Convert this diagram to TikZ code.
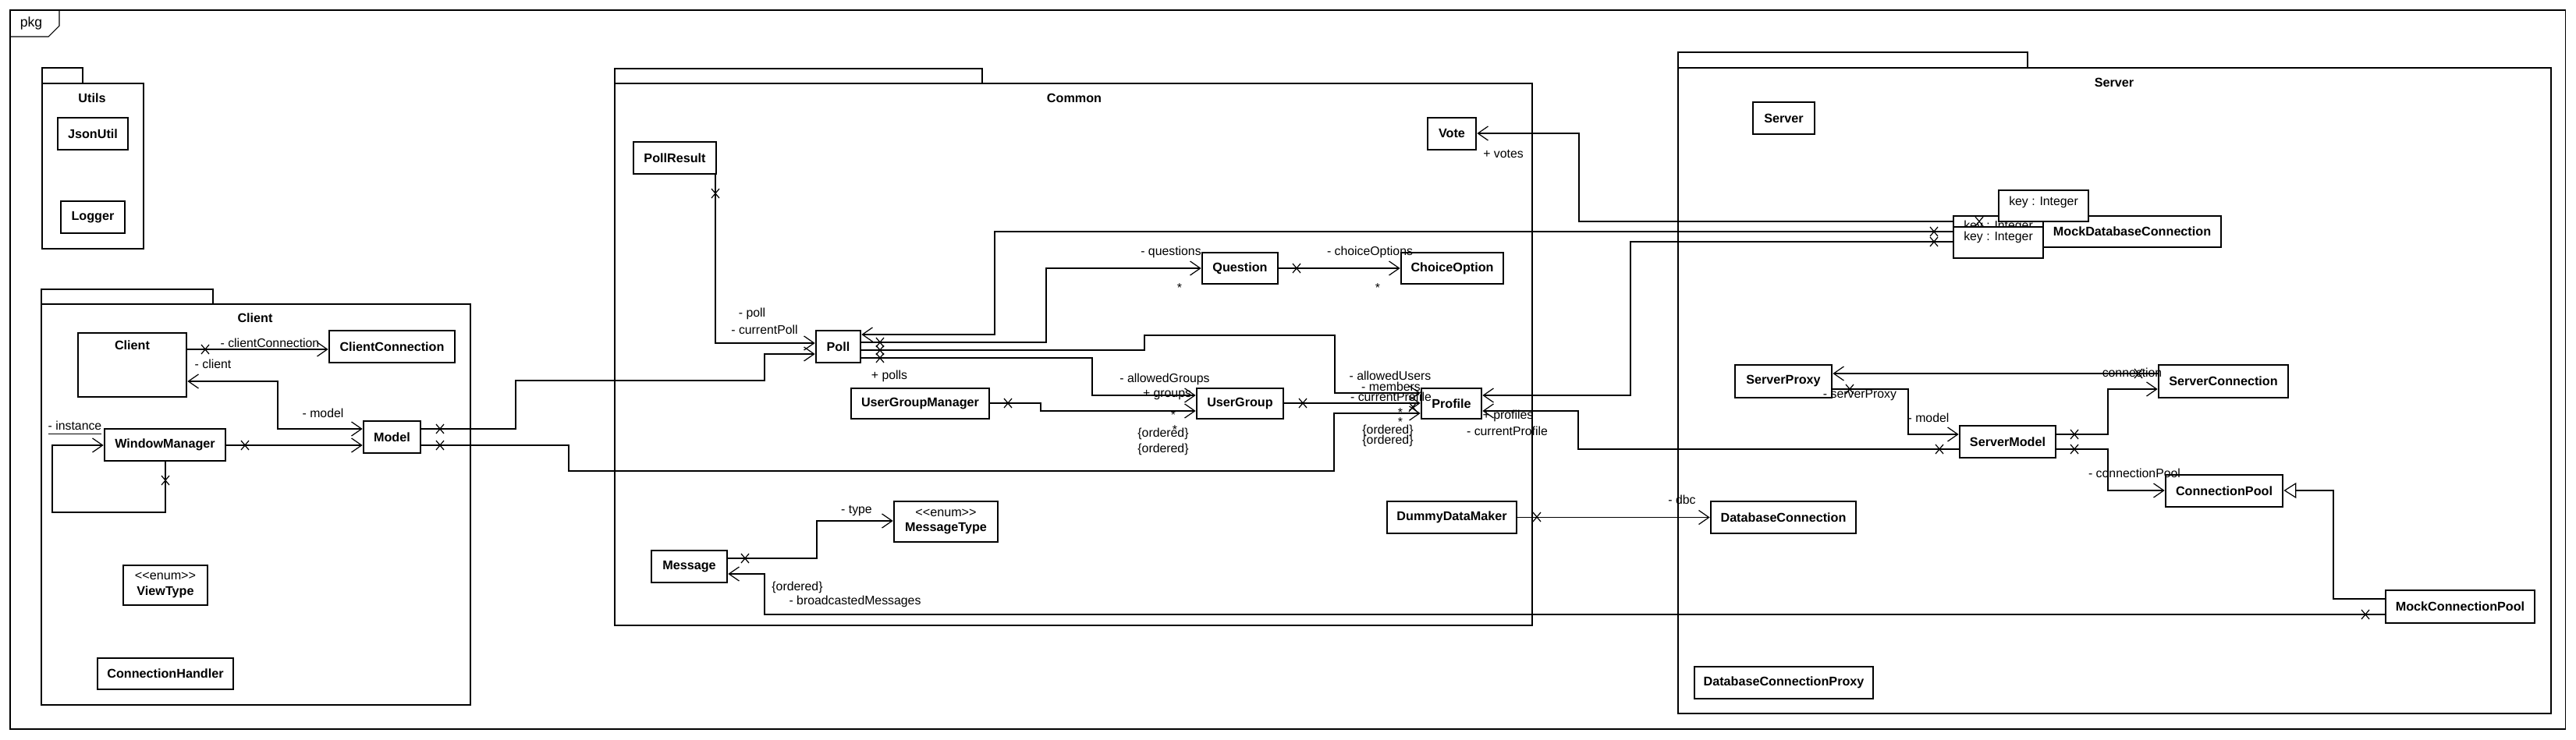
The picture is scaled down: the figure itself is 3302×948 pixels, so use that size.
\documentclass[tikz,border=0pt]{standalone}
\usepackage{fontspec}
\setmainfont{Liberation Sans}
\usetikzlibrary{arrows.meta}

% cross on the non navigable end of an association
\newcommand{\navx}[1]{\draw[assoc] (#1) +(-5,-6) -- +(5,6) +(-5,6) -- +(5,-6);}
% stereotype text, kept away from the << >> ligatures
\newcommand{\enumtag}{{\mdseries <\kern0pt<enum>\kern0pt>}}

\begin{document}
\begin{tikzpicture}[
            x = 0.01cm, y = -0.01cm, % one unit = one pixel of the sketch
            > = {Straight Barb[length = 1.3mm, width = 1.8mm]}, % navigable end
            font = \fontsize{4.5}{5.4}\selectfont
        ]

        \tikzstyle{cls}=[
            draw = black,
            line width = 0.75pt,
            fill = white,
            inner sep = 0pt,
            font = \fontsize{4.6}{5.5}\selectfont\bfseries
        ]
        \tikzstyle{title}=[inner sep = 0pt, font = \fontsize{4.6}{5.5}\selectfont\bfseries]
        \tikzstyle{qual}=[draw = black, line width = 0.35pt, fill = white, inner sep = 0pt]
        \tikzstyle{pkg}=[draw = black, line width = 0.75pt]
        \tikzstyle{assoc}=[draw = black, line width = 0.35pt]
        \tikzstyle{lbl}=[inner sep = 0pt]

        \useasboundingbox (0, 0) rectangle (3302, 948);

        % frame
        \draw[line width = 0.3pt] (13, 13) rectangle (3288, 935);
        \draw[line width = 0.3pt] (13, 47) -- (62, 47) -- (76, 33) -- (76, 13);
        \node[lbl, font = \fontsize{5}{6}\selectfont] (pkgTxt) [at={(40, 30)}] {pkg};

        % packages
        \draw[pkg] (54, 87) rectangle (106, 107);
        \draw[pkg] (54, 107) rectangle (184, 319);
        \draw[pkg] (53, 371) rectangle (273, 390);
        \draw[pkg] (53, 390) rectangle (603, 904);
        \draw[pkg] (788, 88) rectangle (1259, 107);
        \draw[pkg] (788, 107) rectangle (1964, 802);
        \draw[pkg] (2151, 67) rectangle (2599, 87);
        \draw[pkg] (2151, 87) rectangle (3270, 915);
        \node[title] (utilsName) [at={(118, 126)}] {Utils};
        \node[title] (clientName) [at={(327, 408)}] {Client};
        \node[title] (commonName) [at={(1377, 126)}] {Common};
        \node[title] (serverName) [at={(2710, 106)}] {Server};

        % classes
        \node[cls, minimum width = 0.9cm, minimum height = 0.41cm] (jsonUtil) [at={(119, 171.5)}] {JsonUtil};
        \node[cls, minimum width = 0.82cm, minimum height = 0.41cm] (logger) [at={(119, 278.5)}] {Logger};
        \node[cls, minimum width = 1.39cm, minimum height = 0.82cm,
            label = {[title, anchor = north, yshift = -0.1cm]north:Client}] (client) [at={(169.5, 468)}] {};
        \node[cls, minimum width = 1.61cm, minimum height = 0.41cm] (clientConn) [at={(502.5, 444.5)}] {ClientConnection};
        \node[cls, minimum width = 0.73cm, minimum height = 0.41cm] (model) [at={(502.5, 560.5)}] {Model};
        \node[cls, minimum width = 1.55cm, minimum height = 0.41cm] (winMgr) [at={(211.5, 570.5)}] {WindowManager};
        \node[cls, minimum width = 1.08cm, minimum height = 0.51cm, align = center] (viewType) [at={(212, 750.5)}]
            {\enumtag\\ViewType};
        \node[cls, minimum width = 1.74cm, minimum height = 0.4cm] (connHandler) [at={(212, 864)}] {ConnectionHandler};

        \node[cls, minimum width = 1.06cm, minimum height = 0.41cm] (pollResult) [at={(865, 202.5)}] {PollResult};
        \node[cls, minimum width = 0.57cm, minimum height = 0.41cm] (poll) [at={(1074.5, 444.5)}] {Poll};
        \node[cls, minimum width = 0.62cm, minimum height = 0.41cm] (vote) [at={(1861, 171.5)}] {Vote};
        \node[cls, minimum width = 0.97cm, minimum height = 0.4cm] (question) [at={(1589.5, 344)}] {Question};
        \node[cls, minimum width = 1.31cm, minimum height = 0.4cm] (choiceOpt) [at={(1861.5, 344)}] {ChoiceOption};
        \node[cls, minimum width = 1.77cm, minimum height = 0.39cm] (ugManager) [at={(1179.5, 517.5)}] {UserGroupManager};
        \node[cls, minimum width = 1.11cm, minimum height = 0.39cm] (userGroup) [at={(1589.5, 517.5)}] {UserGroup};
        \node[cls, minimum width = 0.77cm, minimum height = 0.39cm] (profile) [at={(1860.5, 517.5)}] {Profile};
        \node[cls, minimum width = 1.66cm, minimum height = 0.41cm] (dummyMaker) [at={(1861, 663.5)}] {DummyDataMaker};
        \node[cls, minimum width = 0.97cm, minimum height = 0.41cm] (message) [at={(883.5, 726.5)}] {Message};
        \node[cls, minimum width = 1.33cm, minimum height = 0.52cm, align = center] (msgType) [at={(1212.5, 669)}]
            {\enumtag\\MessageType};

        \node[cls, minimum width = 0.79cm, minimum height = 0.41cm] (server) [at={(2286.5, 151.5)}] {Server};
        \node[cls, minimum width = 2.28cm, minimum height = 0.4cm] (mockDb) [at={(2733, 297)}] {MockDatabaseConnection};
        \node[cls, minimum width = 1.24cm, minimum height = 0.42cm] (serverProxy) [at={(2286, 489)}] {ServerProxy};
        \node[cls, minimum width = 1.66cm, minimum height = 0.42cm] (serverConn) [at={(2850, 489)}] {ServerConnection};
        \node[cls, minimum width = 1.23cm, minimum height = 0.41cm] (serverModel) [at={(2573.5, 566.5)}] {ServerModel};
        \node[cls, minimum width = 1.5cm, minimum height = 0.41cm] (connPool) [at={(2851, 629.5)}] {ConnectionPool};
        \node[cls, minimum width = 1.86cm, minimum height = 0.41cm] (dbConn) [at={(2286, 663.5)}] {DatabaseConnection};
        \node[cls, minimum width = 1.91cm, minimum height = 0.42cm] (mockPool) [at={(3153.5, 778)}] {MockConnectionPool};
        \node[cls, minimum width = 2.29cm, minimum height = 0.41cm] (dbProxy) [at={(2286.5, 875.5)}] {DatabaseConnectionProxy};

        % qualifiers of MockDatabaseConnection
        \node[qual, minimum width = 1.15cm, minimum height = 0.4cm,
            label = {[lbl, anchor = north, yshift = -0.06cm]north:key : Integer}] (keyVotes) [at={(2561.5, 297)}] {};
        \node[qual, minimum width = 1.15cm, minimum height = 0.4cm,
            label = {[lbl, anchor = north, yshift = -0.06cm]north:key : Integer}] (keyProfiles) [at={(2561.5, 311)}] {};
        \node[qual, minimum width = 1.15cm, minimum height = 0.4cm,
            label = {[lbl, anchor = north, yshift = -0.08cm]north:key : Integer}] (keyPolls) [at={(2619.5, 264)}] {};

        % client associations
        \draw[assoc, ->] (client.east |- 0, 448) -- (clientConn.west |- 0, 448);
        \draw[assoc, <->] (model.west |- 0, 550) -- (356, 550) -- (356, 489) -- (client.east |- 0, 489);
        \draw[assoc, ->] (winMgr.east |- 0, 571) -- (model.west |- 0, 571);
        \draw[assoc, ->] (winMgr.south -| 212, 0) -- (212, 657) -- (67, 657) -- (67, 571) -- (winMgr.west |- 0, 571);
        \draw[assoc, ->] (model.east |- 0, 550) -- (661, 550) -- (661, 488) -- (980, 488) -- (980, 454) -- (poll.west |- 0, 454);
        \draw[assoc, ->] (model.east |- 0, 571) -- (729, 571) -- (729, 604) -- (1710, 604) -- (1710, 530) -- (profile.west |- 0, 530);

        % common associations
        \draw[assoc, ->] (pollResult.south -| 917, 0) -- (917, 440) -- (poll.west |- 0, 440);
        \draw[assoc, ->] (keyVotes.west |- 0, 297) -- (1275, 297) -- (1275, 429) -- (poll.east |- 0, 429);
        \draw[assoc, ->] (poll.east |- 0, 439) -- (1341, 439) -- (1341, 344) -- (question.west);
        \draw[assoc, ->] (poll.east |- 0, 449) -- (1467, 449) -- (1467, 430) -- (1711, 430) -- (1711, 504) -- (profile.west |- 0, 504);
        \draw[assoc, ->] (poll.east |- 0, 459) -- (1400, 459) -- (1400, 507) -- (userGroup.west |- 0, 507);
        \draw[assoc, ->] (ugManager.east |- 0, 517) -- (1334, 517) -- (1334, 527) -- (userGroup.west |- 0, 527);
        \draw[assoc, ->] (userGroup.east |- 0, 517) -- (profile.west |- 0, 517);
        \draw[assoc, ->] (question.east) -- (choiceOpt.west);
        \draw[assoc, ->] (keyVotes.west |- 0, 284) -- (2024, 284) -- (2024, 171) -- (vote.east |- 0, 171);
        \draw[assoc, ->] (keyVotes.west |- 0, 310) -- (2090, 310) -- (2090, 507) -- (profile.east |- 0, 507);
        \draw[assoc, ->] (serverModel.west |- 0, 576) -- (2023, 576) -- (2023, 527) -- (profile.east |- 0, 527);
        \draw[assoc, ->] (dummyMaker.east) -- (dbConn.west);
        \draw[assoc, ->] (message.east |- 0, 716) -- (1047, 716) -- (1047, 668) -- (msgType.west |- 0, 668);
        \draw[assoc, ->] (mockPool.west |- 0, 788) -- (980, 788) -- (980, 736) -- (message.east |- 0, 736);

        % server associations
        \draw[assoc, ->] (serverConn.west |- 0, 479) -- (serverProxy.east |- 0, 479);
        \draw[assoc, ->] (serverProxy.east |- 0, 499) -- (2446, 499) -- (2446, 557) -- (serverModel.west |- 0, 557);
        \draw[assoc, ->] (serverModel.east |- 0, 557) -- (2702, 557) -- (2702, 499) -- (serverConn.west |- 0, 499);
        \draw[assoc, ->] (serverModel.east |- 0, 576) -- (2702, 576) -- (2702, 629) -- (connPool.west |- 0, 629);
        \draw[assoc, -{Triangle[open, length = 1.6mm, width = 2mm]}]
            (mockPool.west |- 0, 768) -- (2991, 768) -- (2991, 629) -- (connPool.east |- 0, 629);

        % crosses
        \navx{263, 448}
        \navx{314, 571}
        \navx{212, 616}
        \navx{564, 550}
        \navx{564, 571}
        \navx{917, 248}
        \navx{1128, 439}
        \navx{1128, 449}
        \navx{1128, 459}
        \navx{1292, 517}
        \navx{1670, 517}
        \navx{1811, 522}
        \navx{1662, 344}
        \navx{2479, 297}
        \navx{2479, 310}
        \navx{2537, 284}
        \navx{2486, 576}
        \navx{1970, 663}
        \navx{955, 716}
        \navx{3032, 788}
        \navx{2741, 479}
        \navx{2371, 499}
        \navx{2659, 557}
        \navx{2659, 576}

        % role names
        \node[lbl] (rClientConn) [at={(346, 440)}] {- clientConnection};
        \node[lbl] (rClient) [at={(273, 467)}] {- client};
        \node[lbl] (rModel) [at={(414, 530)}] {- model};
        \node[lbl] (rInstance) [at={(96, 549)}] {\underline{- instance}};
        \node[lbl] (rPoll) [at={(964, 402)}] {- poll};
        \node[lbl] (rCurrentPoll) [at={(980, 423)}] {- currentPoll};
        \node[lbl] (rPolls) [at={(1140, 482)}] {+ polls};
        \node[lbl] (rQuestions) [at={(1501, 323)}] {- questions};
        \node[lbl] (mQuestions) [at={(1512, 369)}] {*};
        \node[lbl] (rChoices) [at={(1756, 323)}] {- choiceOptions};
        \node[lbl] (mChoices) [at={(1766, 369)}] {*};
        \node[lbl] (rVotes) [at={(1927, 197)}] {+ votes};
        \node[lbl] (rAllowedGroups) [at={(1493, 486)}] {- allowedGroups};
        \node[lbl] (rGroups) [at={(1496, 507)}] {+ groups};
        \node[lbl] (mGroupsA) [at={(1504, 532)}] {*};
        \node[lbl] (mGroupsB) [at={(1506, 551)}] {*};
        \node[lbl] (oGroupsA) [at={(1491, 556)}] {\{ordered\}};
        \node[lbl] (oGroupsB) [at={(1491, 576)}] {\{ordered\}};
        \node[lbl] (rAllowedUsers) [at={(1782, 482)}] {- allowedUsers};
        \node[lbl] (rMembers) [at={(1783, 496)}] {- members};
        \node[lbl] (rCurrentProfileA) [at={(1783, 509)}] {- currentProfile};
        \node[lbl] (mUsersA) [at={(1795, 529)}] {*};
        \node[lbl] (mUsersB) [at={(1795, 541)}] {*};
        \node[lbl] (oUsersA) [at={(1779, 552)}] {\{ordered\}};
        \node[lbl] (oUsersB) [at={(1779, 565)}] {\{ordered\}};
        \node[lbl] (rProfiles) [at={(1933, 533)}] {+ profiles};
        \node[lbl] (rCurrentProfileB) [at={(1932, 553)}] {- currentProfile};
        \node[lbl] (rType) [at={(1098, 655)}] {- type};
        \node[lbl] (oMessages) [at={(1022, 753)}] {\{ordered\}};
        \node[lbl] (rMessages) [at={(1096, 771)}] {- broadcastedMessages};
        \node[lbl] (rDbc) [at={(2156, 641)}] {- dbc};
        \node[lbl] (rConnection) [at={(2733, 478)}] {connection};
        \node[lbl] (rServerProxy) [at={(2384, 507)}] {- serverProxy};
        \node[lbl] (rServerModel) [at={(2472, 536)}] {- model};
        \node[lbl] (rConnPool) [at={(2736, 607)}] {- connectionPool};
    \end{tikzpicture}
\end{document}
